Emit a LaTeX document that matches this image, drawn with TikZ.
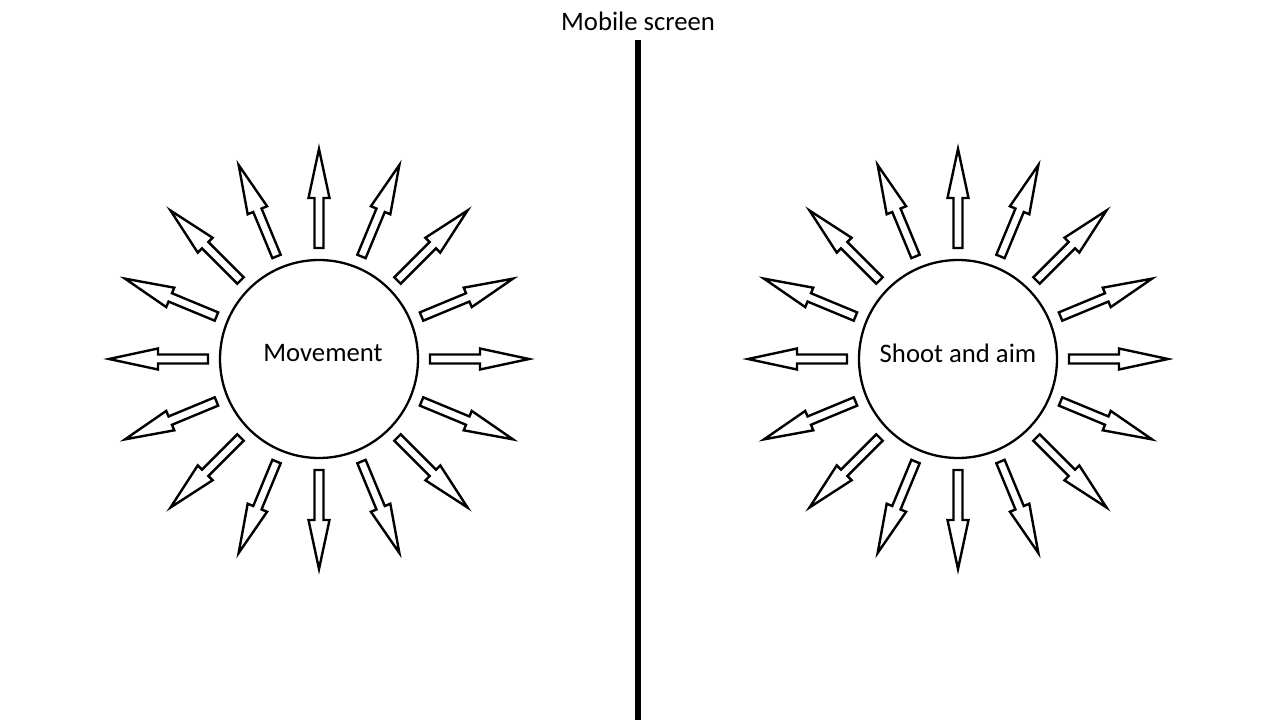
\documentclass[tikz,border=0pt]{standalone}
\usepackage{fontspec}
\setmainfont{Carlito}
\begin{document}
\begin{tikzpicture}[x=1pt,y=-1pt,
  hub/.style={circle,draw,line width=2.3pt,minimum size=198pt,inner sep=0pt},
  lbl/.style={font=\fontsize{26.7}{32}\selectfont,inner sep=0pt},
  ray/.style={draw,line width=2.4pt,fill=white,line join=miter},
  divider/.style={line width=6pt}]
\useasboundingbox (0,0) rectangle (1280,720);
\node[lbl] (title) at (638,21) {Mobile screen};
\coordinate (divtop) at (638,40);
\coordinate (divbot) at (638,720);
\draw[divider] (divtop) -- (divbot);
\node[hub] (mv) at (319,359) {};
\node[lbl] (mvtext) at (323,353) {Movement};
\node[hub] (sa) at (958,359) {};
\node[lbl] (satext) at (958,353) {Shoot and aim};
\foreach \c in {mv,sa}{
  \foreach \a in {0,22.5,...,337.5}{
    \draw[ray,shift={(\c.center)},rotate=\a]
      (111,-4.5) -- (161,-4.5) -- (161,-10.5) -- (210,0) -- (161,10.5) -- (161,4.5) -- (111,4.5) -- cycle;
  }
}
\end{tikzpicture}
\end{document}
